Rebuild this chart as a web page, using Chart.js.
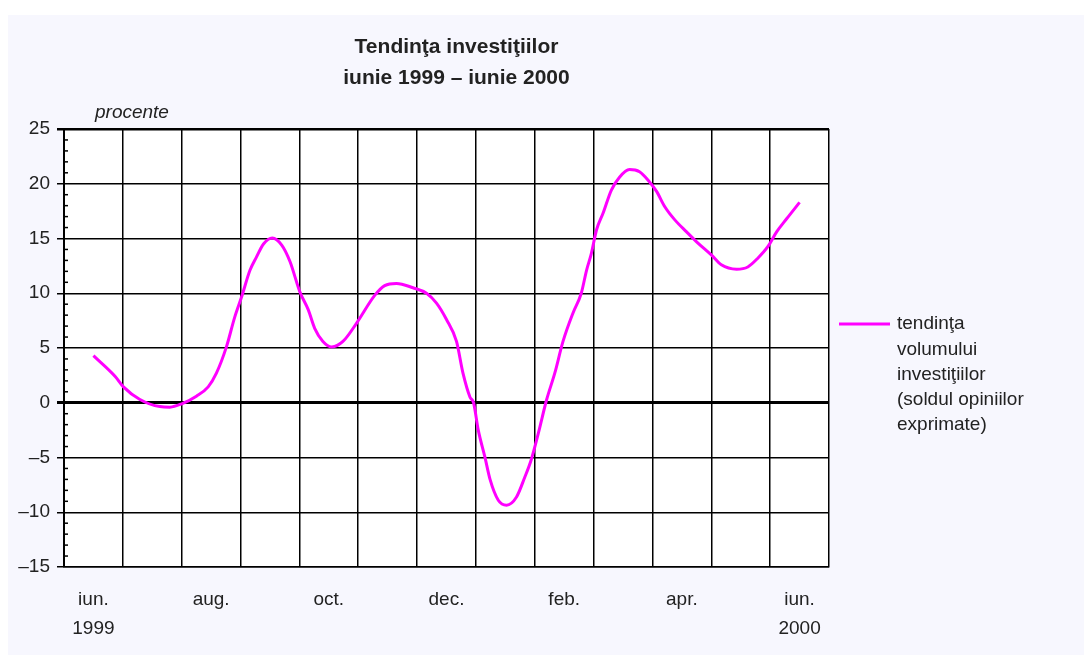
<!DOCTYPE html>
<html>
<head>
<meta charset="utf-8">
<script src="https://cdn.jsdelivr.net/npm/chart.js@4/dist/chart.umd.min.js"></script>
<style>
  html, body { margin: 0; padding: 0; background: #fff; }
  canvas { display: block; }
</style>
</head>
<body>
<canvas id="chart" width="1084" height="655"></canvas>
<script>
// Tendinta investitiilor, iunie 1999 - iunie 2000 (procente)

const monthLabels = [['iun.', '1999'], '', 'aug.', '', 'oct.', '', 'dec.', '', 'feb.', '', 'apr.', '', ['iun.', '2000']];
const titleLines = ['Tendinţa investiţiilor', 'iunie 1999 – iunie 2000'];
const unitLabel = 'procente';
const seriesName = ['tendinţa', 'volumului', 'investiţiilor', '(soldul opiniilor', 'exprimate)'];

// pozitia pe axa lunilor (0 = iun. 1999, 12 = iun. 2000)
const monthPos = [0.00, 0.37, 0.51, 0.79, 1.13, 1.30, 1.50, 1.75, 1.95, 2.09, 2.26, 2.40, 2.52, 2.66, 2.77, 2.89,
    3.04, 3.20, 3.34, 3.51, 3.65, 3.76, 3.90, 4.05, 4.24, 4.47, 4.78, 4.95, 5.15, 5.43, 5.66, 5.83,
    6.00, 6.17, 6.28, 6.40, 6.46, 6.54, 6.65, 6.74, 6.88, 7.02, 7.19, 7.33, 7.44, 7.56, 7.70, 7.84,
    7.98, 8.15, 8.29, 8.38, 8.46, 8.55, 8.66, 8.80, 8.94, 9.11, 9.28, 9.43, 9.57, 9.71, 9.88, 10.08,
    10.25, 10.50, 10.67, 10.93, 11.12, 11.29, 11.46, 11.61, 11.78, 12.00];
const trendValues = [4.3, 2.4, 1.45, 0.3, -0.35, -0.4, -0.1, 0.6, 1.45, 2.7, 5.1, 7.8, 9.7, 12.1, 13.3, 14.5,
    15.05, 14.4, 12.9, 10.1, 8.5, 6.8, 5.6, 5.1, 5.6, 7.25, 9.8, 10.7, 10.9, 10.5, 10.0, 9.1,
    7.6, 5.6, 2.7, 0.5, 0.0, -2.5, -4.9, -7.0, -8.9, -9.35, -8.6, -6.8, -5.2, -2.8, 0.25, 2.7,
    5.6, 8.2, 10.0, 12.1, 13.6, 15.8, 17.3, 19.4, 20.6, 21.3, 21.1, 20.3, 19.3, 17.9, 16.7, 15.6,
    14.7, 13.5, 12.6, 12.2, 12.4, 13.2, 14.25, 15.6, 16.8, 18.3];

const yMin = -15;
const yMax = 25;
const yStep = 5;

const FONT = "'Liberation Sans', Arial, Helvetica, sans-serif";
const TEXT_COLOR = '#222';
const LINE_COLOR = '#ff00ff';

// fundal: alb in afara, lavanda pentru cadru, alb in zona graficului
const backgroundPlugin = {
    id: 'background',
    beforeDraw(chart) {
        const { ctx, chartArea: a } = chart;
        ctx.save();
        ctx.fillStyle = '#ffffff';
        ctx.fillRect(0, 0, chart.width, chart.height);
        ctx.fillStyle = '#f7f7fe';
        ctx.fillRect(8, 15, chart.width - 8, chart.height - 15);
        ctx.fillStyle = '#ffffff';
        ctx.fillRect(a.left, a.top, a.right - a.left, a.bottom - a.top);
        ctx.restore();
    }
};

// titlu, unitate, legenda si diviziuni mici pe axa Y
const decorPlugin = {
    id: 'decor',
    afterDraw(chart) {
        const { ctx, chartArea: a } = chart;
        const y = chart.scales.y;
        ctx.save();

        // diviziuni mici
        ctx.strokeStyle = '#000';
        ctx.lineWidth = 1.5;
        for (let v = yMin; v <= yMax; v++) {
            if (v % yStep === 0) continue;
            const py = y.getPixelForValue(v);
            ctx.beginPath();
            ctx.moveTo(a.left, py);
            ctx.lineTo(a.left + 4, py);
            ctx.stroke();
        }

        // titlu
        ctx.fillStyle = TEXT_COLOR;
        ctx.textAlign = 'center';
        ctx.textBaseline = 'middle';
        ctx.font = 'bold 21px ' + FONT;
        const cx = (a.left + a.right) / 2 + 10;
        ctx.fillText(titleLines[0], cx, 47);
        ctx.fillText(titleLines[1], cx, 78);

        // unitate
        ctx.textAlign = 'left';
        ctx.font = 'italic 19px ' + FONT;
        ctx.fillText(unitLabel, a.left + 31, a.top - 16);

        // legenda
        const lx = a.right + 10;
        const ly = 324;
        ctx.strokeStyle = LINE_COLOR;
        ctx.lineWidth = 3;
        ctx.beginPath();
        ctx.moveTo(lx, ly);
        ctx.lineTo(lx + 51, ly);
        ctx.stroke();
        ctx.font = '19px ' + FONT;
        seriesName.forEach((line, i) => {
            ctx.fillText(line, lx + 58, ly + i * 25.3);
        });

        ctx.restore();
    }
};

const ctx = document.getElementById('chart');

new Chart(ctx, {
    type: 'line',
    data: {
        labels: monthLabels,
        datasets: [{
            label: seriesName.join(' '),
            data: monthPos.map((m, i) => ({ x: m, y: trendValues[i] })),
            xAxisID: 'xd',
            borderColor: LINE_COLOR,
            borderWidth: 3,
            pointRadius: 0,
            fill: false,
            cubicInterpolationMode: 'monotone'
        }]
    },
    options: {
        responsive: false,
        animation: false,
        devicePixelRatio: 1,
        layout: {
            padding: { left: 0, top: 129, right: 255, bottom: 0 }
        },
        plugins: {
            legend: { display: false },
            title: { display: false },
            tooltip: { enabled: false }
        },
        scales: {
            x: {
                type: 'category',
                offset: true,
                afterFit(scale) { scale.height = 88; },
                grid: {
                    offset: true,
                    color: '#000',
                    lineWidth: (c) => (c.index === monthLabels.length ? 1.5 : 1.5),
                    drawTicks: false
                },
                border: { color: '#000', width: 1.5 },
                ticks: {
                    autoSkip: false,
                    maxRotation: 0,
                    padding: 19,
                    color: TEXT_COLOR,
                    font: { family: FONT, size: 19, lineHeight: 1.5 }
                }
            },
            xd: {
                type: 'linear',
                display: false,
                min: -0.5,
                max: 12.5
            },
            y: {
                min: yMin,
                max: yMax,
                afterFit(scale) { scale.width = 64; },
                grid: {
                    color: '#000',
                    lineWidth: (c) => {
                        if (c.tick && c.tick.value === 0) return 3;
                        if (c.tick && c.tick.value === yMax) return 2.5;
                        return 1.5;
                    },
                    tickLength: 7
                },
                border: { color: '#000', width: 2 },
                ticks: {
                    stepSize: yStep,
                    padding: 7,
                    color: TEXT_COLOR,
                    font: { family: FONT, size: 19 },
                    callback: (v) => (v < 0 ? '–' + Math.abs(v) : String(v))
                }
            }
        }
    },
    plugins: [backgroundPlugin, decorPlugin]
});
</script>
</body>
</html>
